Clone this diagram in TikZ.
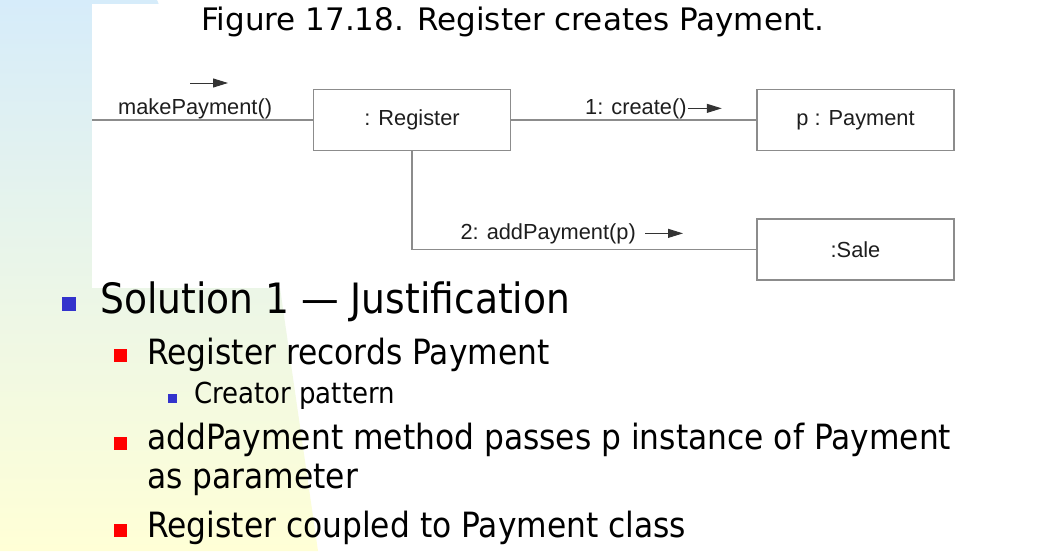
\documentclass[tikz,border=0pt]{standalone}
\usepackage{fontspec}
\setmainfont{Liberation Sans}
\newfontfamily\slidefont[FakeStretch=0.9]{DejaVu Sans}
\newfontfamily\titlefont{DejaVu Sans}
\usetikzlibrary{arrows.meta,positioning}
\definecolor{bulletblue}{RGB}{51,51,204}
\definecolor{bulletred}{RGB}{255,0,0}
\definecolor{linegray}{RGB}{140,140,140}
\definecolor{textgray}{RGB}{30,30,30}
\definecolor{bgblue}{RGB}{214,236,250}
\definecolor{bgyellow}{RGB}{255,255,214}

\begin{document}
\begin{tikzpicture}[
  x=1pt,y=-1pt,
  node distance=67pt and 245pt,
  obj/.style={draw=linegray,line width=1.5pt,minimum width=197pt,minimum height=61pt,inner sep=0pt,font=\fontsize{21.8}{24}\selectfont,text=textgray},
  link/.style={draw=linegray,line width=1.5pt},
  msg/.style={-{Triangle[length=15pt,width=9pt]},line width=1pt,draw=black!80},
  lbl/.style={inner sep=0pt,font=\fontsize{21.8}{24}\selectfont,text=textgray},
  sq/.style={inner sep=0pt,minimum size=#1},
  item/.style={inner sep=0pt,anchor=base west,font=\slidefont\fontsize{34.8}{40}\selectfont},
  subitem/.style={inner sep=0pt,anchor=base west,font=\slidefont\fontsize{28.9}{34}\selectfont}
]
\useasboundingbox (0,0) rectangle (1048,551);
% slide background
\fill[white] (0,0) rectangle (1048,551);
\shade[top color=bgblue,bottom color=bgyellow] (0,0) -- (157,0) -- (280,288) -- (318,551) -- (0,551) -- cycle;
\fill[white] (92,4) rectangle (1048,288);

\node[font=\titlefont\fontsize{31}{36}\selectfont,anchor=base] (title) at (513,31) {Figure 17.18. Register creates Payment.};

% collaboration diagram
\node[obj] (reg) at (412,120) {: Register};
\node[obj,right=of reg] (pay) {p : Payment};
\node[obj,below=of pay] (sale) {:Sale};
\coordinate (entry) at (92,120);
\draw[link] (entry) -- (reg);
\draw[link] (reg) -- (pay);
\draw[link] (reg.south) |- (sale.west);

\node[lbl,anchor=base west] (mplbl) at (118,114) {makePayment()};
\node[lbl,anchor=base west] (crlbl) at (585,114) {1: create()};
\node[lbl,anchor=base east] (addlbl) at (636,239) {2: addPayment(p)};
\coordinate (mptail) at (190,83);
\coordinate (mptip) at (228,83);
\coordinate[right=1pt of crlbl.east] (crtail);
\coordinate[right=34pt of crtail] (crtip);
\coordinate[right=9pt of addlbl.east] (addtail);
\coordinate[right=38pt of addtail] (addtip);
\draw[msg] (mptail) -- (mptip);
\draw[msg] (crtail) -- (crtip);
\draw[msg] (addtail) -- (addtip);

% bullets
\node[sq=14pt,fill=bulletblue] (b1) at (68.5,304) {};
\node[item,font=\slidefont\fontsize{41.8}{48}\selectfont] (sol) at (100,313) {Solution 1 — Justification};
\node[sq=13pt,fill=bulletred] (b2) at (120.5,355) {};
\node[item] (rec) at (147,364) {Register records Payment};
\node[sq=9pt,fill=bulletblue] (b3) at (172.5,398) {};
\node[subitem] (cre) at (194,403) {Creator pattern};
\node[sq=13pt,fill=bulletred] (b4) at (120.5,443) {};
\node[item] (add) at (147,449) {addPayment method passes p instance of Payment};
\node[item] (par) at (147,488) {as parameter};
\node[sq=13pt,fill=bulletred] (b5) at (120.5,530) {};
\node[item] (cpl) at (147,537) {Register coupled to Payment class};
\end{tikzpicture}
\end{document}
